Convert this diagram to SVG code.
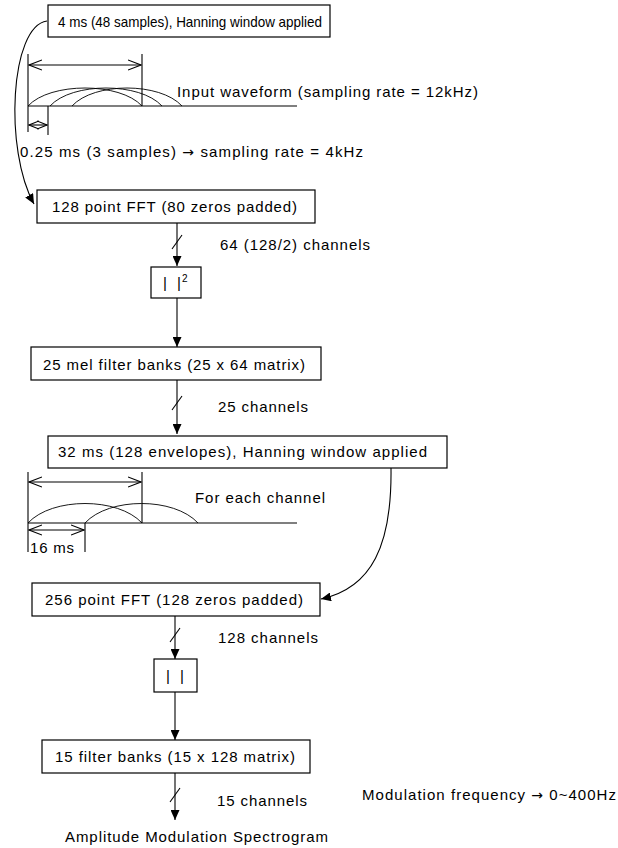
<svg xmlns="http://www.w3.org/2000/svg" width="618" height="848" viewBox="0 0 618 848">
<style>
  text { font-family: "Liberation Sans", Arial, sans-serif; font-size: 15px; fill: #000; }
  .ar { font-family: "DejaVu Sans", sans-serif; font-size: 14px; }
  .box { fill: #fff; stroke: #000; stroke-width: 1.2; }
  .ln { fill: none; stroke: #000; stroke-width: 1.1; }
  .thin { fill: none; stroke: #000; stroke-width: 0.9; }
</style>
<defs>
  <marker id="ah" viewBox="0 0 10 9" refX="10" refY="4.5" markerWidth="10" markerHeight="9" orient="auto" markerUnits="userSpaceOnUse">
    <path d="M0,0 L10,4.5 L0,9 z" fill="#000"/>
  </marker>
  <marker id="ch" viewBox="0 0 14 12" refX="13" refY="6" markerWidth="14" markerHeight="12" orient="auto-start-reverse" markerUnits="userSpaceOnUse">
    <path d="M0,1 L13,6 L0,11" fill="none" stroke="#000" stroke-width="1.1"/>
  </marker>
  <marker id="chs" viewBox="0 0 11 10" refX="10" refY="5" markerWidth="11" markerHeight="10" orient="auto-start-reverse" markerUnits="userSpaceOnUse">
    <path d="M0,1 L10,5 L0,9" fill="none" stroke="#000" stroke-width="1.1"/>
  </marker>
</defs>

<g id="connectors">
  <path class="ln" d="M47,21 C10,26 4,150 34,204" marker-end="url(#ah)"/>
  <path class="ln" d="M177,223 V266" marker-end="url(#ah)"/>
  <path class="ln" d="M172,249 L182,235"/>
  <path class="ln" d="M177,298 V347" marker-end="url(#ah)"/>
  <path class="ln" d="M177,380 V434" marker-end="url(#ah)"/>
  <path class="ln" d="M172,410 L182,396"/>
  <path class="ln" d="M391,468 C392,545 372,588 321,599" marker-end="url(#ah)"/>
  <path class="ln" d="M175,616 V659" marker-end="url(#ah)"/>
  <path class="ln" d="M170,642 L180,628"/>
  <path class="ln" d="M175,692 V740" marker-end="url(#ah)"/>
  <path class="ln" d="M175,773 V820" marker-end="url(#ah)"/>
  <path class="ln" d="M170,802 L180,788"/>
</g>

<g id="window1">
  <path class="ln" d="M28,54 V132"/>
  <path class="ln" d="M142,54 V106"/>
  <path class="ln" d="M48,106 V135"/>
  <path class="ln" d="M28,106 H297"/>
  <path class="ln" d="M29,65 H141" marker-start="url(#ch)" marker-end="url(#ch)"/>
  <path class="ln" d="M29,125 H47" marker-start="url(#chs)" marker-end="url(#chs)"/>
  <path class="thin" d="M28,106 C50,82 120,82 142,106"/>
  <path class="thin" d="M50,106 C72,82 140,82 162,106"/>
  <path class="thin" d="M72,106 C94,82 160,82 182,106"/>
  <text x="177" y="97" textLength="301" lengthAdjust="spacing">Input waveform  (sampling rate = 12kHz)</text>
  <text x="20" y="157" textLength="343" lengthAdjust="spacing">0.25 ms (3 samples) <tspan class="ar">→</tspan> sampling rate = 4kHz</text>
</g>

<g id="window2">
  <path class="ln" d="M28,472 V552"/>
  <path class="ln" d="M142,472 V523"/>
  <path class="ln" d="M85,523 V552"/>
  <path class="ln" d="M28,523 H297"/>
  <path class="ln" d="M29,482 H141" marker-start="url(#ch)" marker-end="url(#ch)"/>
  <path class="ln" d="M29,530 H84" marker-start="url(#ch)" marker-end="url(#ch)"/>
  <path class="thin" d="M28,523 C52,497 118,497 142,523"/>
  <path class="thin" d="M85,523 C109,497 174,497 198,523"/>
  <text x="195" y="503" textLength="130" lengthAdjust="spacing">For each channel</text>
  <text x="30" y="553" textLength="44" lengthAdjust="spacing">16 ms</text>
</g>

<g id="n-window4ms">
  <rect class="box" x="48" y="5" width="282" height="32"/>
  <text x="58" y="27" textLength="264" lengthAdjust="spacingAndGlyphs">4 ms (48 samples), Hanning window applied</text>
</g>
<g id="n-fft128">
  <rect class="box" x="37" y="190" width="278" height="33"/>
  <text x="52" y="212" textLength="245" lengthAdjust="spacing">128 point FFT (80 zeros padded)</text>
</g>
<text x="220" y="250" textLength="150" lengthAdjust="spacing">64 (128/2) channels</text>
<g id="n-sq">
  <rect class="box" x="151" y="267" width="50" height="31"/>
  <text y="288"><tspan x="163">|</tspan><tspan x="177">|</tspan><tspan x="182" dy="-6" font-size="10">2</tspan></text>
</g>
<g id="n-mel">
  <rect class="box" x="31" y="347" width="290" height="33"/>
  <text x="43" y="370" textLength="262" lengthAdjust="spacing">25 mel filter banks (25 x 64 matrix)</text>
</g>
<text x="218" y="412" textLength="90" lengthAdjust="spacing">25 channels</text>
<g id="n-window32ms">
  <rect class="box" x="48" y="436" width="399" height="32"/>
  <text x="58" y="457" textLength="369" lengthAdjust="spacing">32 ms (128 envelopes), Hanning window applied</text>
</g>
<g id="n-fft256">
  <rect class="box" x="32" y="583" width="288" height="33"/>
  <text x="45" y="605" textLength="258" lengthAdjust="spacing">256 point FFT (128 zeros padded)</text>
</g>
<text x="218" y="643" textLength="100" lengthAdjust="spacing">128 channels</text>
<g id="n-abs">
  <rect class="box" x="154" y="659" width="43" height="33"/>
  <text y="681"><tspan x="166">|</tspan><tspan x="180">|</tspan></text>
</g>
<g id="n-filter15">
  <rect class="box" x="42" y="740" width="268" height="33"/>
  <text x="55" y="762" textLength="240" lengthAdjust="spacing">15 filter banks (15 x 128 matrix)</text>
</g>
<text x="217" y="806" textLength="90" lengthAdjust="spacing">15 channels</text>
<text x="362" y="800" textLength="254" lengthAdjust="spacing">Modulation frequency <tspan class="ar">→</tspan> 0~400Hz</text>
<g id="n-output">
  <text x="65" y="842" textLength="263" lengthAdjust="spacing">Amplitude Modulation Spectrogram</text>
</g>
</svg>
